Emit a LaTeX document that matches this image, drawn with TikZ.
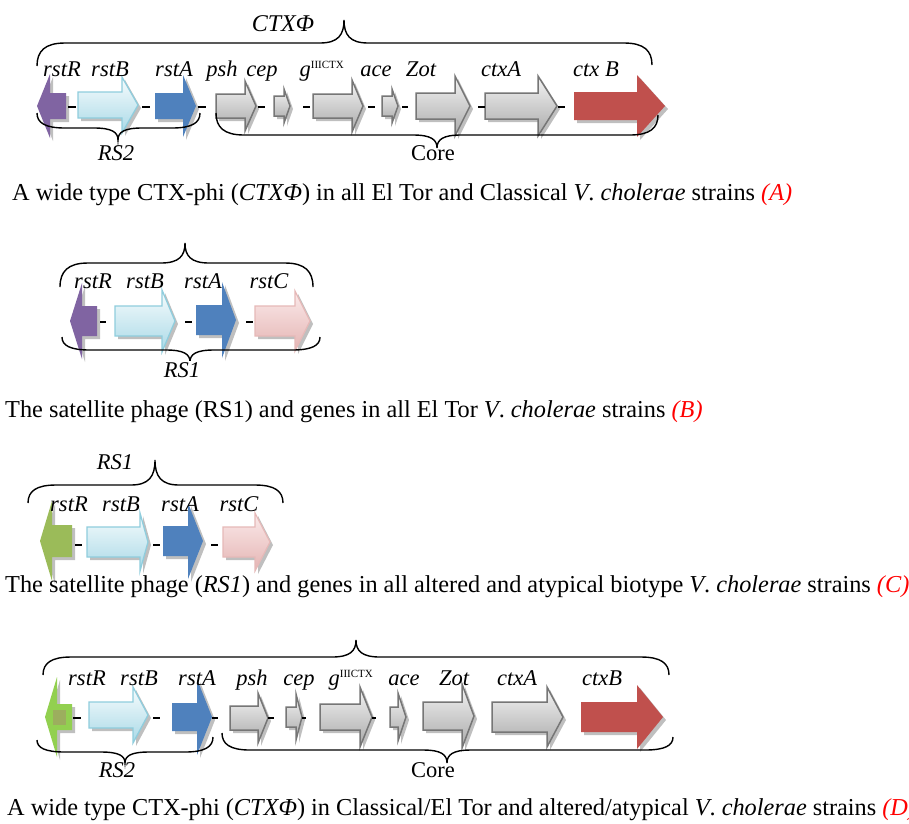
\documentclass[tikz,border=0pt]{standalone}
\usepackage{fontspec}
\setmainfont{Liberation Serif}
\definecolor{cpurple}{HTML}{8064A2}
\definecolor{cblue}{HTML}{4F81BD}
\definecolor{cred}{HTML}{C0504D}
\definecolor{cgreen}{HTML}{9BBB59}
\definecolor{clime}{HTML}{92D050}
\definecolor{colive}{HTML}{9CAE5E}
\definecolor{cyanT}{HTML}{F7FCFD}
\definecolor{cyanB}{HTML}{A9D9E7}
\definecolor{cyanL}{HTML}{8FCDDD}
\definecolor{grayT}{HTML}{F4F4F4}
\definecolor{grayB}{HTML}{A9A9A9}
\definecolor{grayL}{HTML}{767676}
\definecolor{pinkT}{HTML}{FBEAEA}
\definecolor{pinkB}{HTML}{E4B4B3}
\definecolor{pinkL}{HTML}{E6B9B8}
\tikzset{
  purplegene/.style={fill=cpurple},
  bluegene/.style={fill=cblue},
  redgene/.style={fill=cred},
  greengene/.style={fill=cgreen},
  limegene/.style={fill=clime},
  cyangene/.style={top color=cyanT,bottom color=cyanB,draw=cyanL,line width=1.3},
  graygene/.style={top color=grayT,bottom color=grayB,draw=grayL,line width=1.5},
  pinkgene/.style={top color=pinkT,bottom color=pinkB,draw=pinkL,line width=1.2},
  bracestyle/.style={draw=black,line width=1.4},
  linker/.style={draw=black,line width=2},
  lab/.style={font=\fontsize{22.5}{26}\selectfont\itshape,anchor=base,inner sep=0pt},
  uplab/.style={font=\fontsize{22.5}{26}\selectfont,anchor=base,inner sep=0pt},
  caption/.style={font=\fontsize{24.3}{28}\selectfont,anchor=base west,inner sep=0pt},
}
% #1 style, #2 back x, #3 head base x, #4 tip x, #5 centre y, #6 body half height, #7 head half height
\newcommand\gn[7][]{%
  \fill[black,opacity=0.25,shift={(3,3)}] (#2,{#5-#6}) -- (#3,{#5-#6}) -- (#3,{#5-#7}) -- (#4,#5) -- (#3,{#5+#7}) -- (#3,{#5+#6}) -- (#2,{#5+#6}) -- cycle;
  \path[#1] (#2,{#5-#6}) -- (#3,{#5-#6}) -- (#3,{#5-#7}) -- (#4,#5) -- (#3,{#5+#7}) -- (#3,{#5+#6}) -- (#2,{#5+#6}) -- cycle;}
% brace: xl, xm, xr, yl, yr, yh, yp
\newcommand\gbrace[7]{%
  \draw[bracestyle] (#1,#4) .. controls (#1,{#6+0.35*(#4-#6)}) and ({#1+8},#6) .. ({#1+28},#6)
   -- ({#2-24},#6) .. controls ({#2-6},#6) and (#2,{#6+0.35*(#7-#6)}) .. (#2,#7)
   .. controls (#2,{#6+0.35*(#7-#6)}) and ({#2+6},#6) .. ({#2+24},#6)
   -- ({#3-28},#6) .. controls ({#3-8},#6) and (#3,{#6+0.35*(#5-#6)}) .. (#3,#5);}
\newcommand\lnk[3]{\draw[linker] (#1,#3) -- (#2,#3);}
\begin{document}
\begin{tikzpicture}[x=1pt,y=-1pt]
\useasboundingbox (0,0) rectangle (909,823);
\fill[white] (0,0) rectangle (909,823);

%% ---------------- A ----------------
\gn[purplegene]{66}{50}{37}{106}{13}{32}
\gn[cyangene]{78}{122}{138}{105}{13}{28}
\gn[bluegene]{155}{183}{196}{106}{13}{31}
\gn[graygene]{216}{245}{256}{106}{12}{25}
\gn[graygene]{274}{284}{290}{106}{10}{17}
\gn[graygene]{313}{352}{363}{106}{12}{26}
\gn[graygene]{382}{392}{398}{106}{10}{17}
\gn[graygene]{416}{455}{470}{106}{13}{30}
\gn[graygene]{485}{538}{557}{106}{13}{30}
\gn[redgene]{574}{637}{665}{106}{14}{31}
\lnk{68}{76}{107}\lnk{142}{150}{107}\lnk{198}{206}{107}\lnk{258}{265}{107}
\lnk{303}{310}{107}\lnk{368}{375}{107}\lnk{402}{408}{107}\lnk{478}{485}{107}
\lnk{558}{565}{107}
\gbrace{37}{344}{652}{66}{65}{43}{20}
\gbrace{37}{118}{200}{113}{113}{128}{140}
\gbrace{216}{437}{658}{113}{115}{135}{148}
\node[lab,font=\fontsize{24}{28}\selectfont\itshape] (a-ctx) at (283,31) {CTXΦ};
\node[lab] (a-rstR) at (62,76) {rstR};
\node[lab] (a-rstB) at (110,76) {rstB};
\node[lab] (a-rstA) at (174,76) {rstA};
\node[lab] (a-psh) at (222,76) {psh};
\node[lab] (a-cep) at (262,76) {cep};
\node[lab] (a-g) at (322,76) {g\textsuperscript{\upshape\fontsize{11}{12}\selectfont IIICTX}};
\node[lab] (a-ace) at (376,76) {ace};
\node[lab] (a-zot) at (421,76) {Zot};
\node[lab] (a-ctxA) at (501,76) {ctxA};
\node[lab] (a-ctxB) at (596,76) {ctx B};
\node[lab] (a-rs2) at (116,160) {RS2};
\node[uplab] (a-core) at (433,160) {Core};
\node[caption] (a-cap) at (12,200) {A wide type CTX-phi (\textit{CTXΦ}) in all El Tor and Classical \textit{V}. \textit{cholerae} strains \textcolor{red}{\textit{(A)}}};

%% ---------------- B ----------------
\gn[purplegene]{97}{82}{70}{321}{15}{38}
\gn[cyangene]{115}{162}{175}{321}{15}{31}
\gn[bluegene]{196}{222}{236}{320}{15}{38}
\gn[pinkgene]{255}{295}{310}{321}{15}{30}
\lnk{100}{106}{322}\lnk{185}{192}{322}\lnk{246}{253}{322}
\gbrace{60}{185}{313}{287}{287}{263}{243}
\gbrace{62}{190}{320}{337}{337}{350}{362}
\node[lab] (b-rstR) at (93,288) {rstR};
\node[lab] (b-rstB) at (145,288) {rstB};
\node[lab] (b-rstA) at (203,288) {rstA};
\node[lab] (b-rstC) at (269,288) {rstC};
\node[lab,fill=white,inner xsep=2pt,inner ysep=1pt] (b-rs1) at (182,377) {RS1};
\node[caption] (b-cap) at (5,417) {The satellite phage (RS1) and genes in all El Tor \textit{V}. \textit{cholerae} strains \textcolor{red}{\textit{(B)}}};

%% ---------------- C ----------------
\gn[greengene]{72}{52}{40}{541}{16}{40}
\gn[cyangene]{87}{140}{148}{542}{15}{29}
\gn[bluegene]{163}{188}{203}{541}{15}{38}
\gn[pinkgene]{223}{255}{270}{542}{15}{29}
\lnk{75}{82}{545}\lnk{153}{160}{545}\lnk{211}{218}{545}
\gbrace{28}{155}{283}{503}{503}{485}{460}
\node[lab] (c-rs1) at (115,469) {RS1};
\node[lab] (c-rstR) at (69,511) {rstR};
\node[lab] (c-rstB) at (121,511) {rstB};
\node[lab] (c-rstA) at (180,511) {rstA};
\node[lab] (c-rstC) at (239,511) {rstC};
\node[caption] (c-cap) at (5,592) {The satellite phage (\textit{RS1}) and genes in all altered and atypical biotype \textit{V}. \textit{cholerae} strains \textcolor{red}{\textit{(C)}}};

%% ---------------- D ----------------
\gn[limegene]{72}{57}{45}{717}{13}{40}
\fill[colive] (53,710) rectangle (66,725);
\gn[cyangene]{89}{133}{148}{715}{13}{28}
\gn[bluegene]{172}{197}{212}{717}{14}{38}
\gn[graygene]{230}{258}{268}{718}{12}{25}
\gn[graygene]{286}{296}{302}{717}{10}{23}
\gn[graygene]{320}{360}{372}{717}{13}{30}
\gn[graygene]{390}{398}{406}{717}{10}{24}
\gn[graygene]{423}{462}{474}{716}{14}{32}
\gn[graygene]{492}{547}{563}{717}{15}{30}
\gn[redgene]{581}{637}{663}{717}{15}{32}
\lnk{73}{81}{718}\lnk{153}{160}{718}\lnk{212}{218}{718}\lnk{268}{274}{718}
\lnk{302}{306}{718}\lnk{372}{376}{718}
\gbrace{43}{356}{669}{675}{675}{657}{640}
\gbrace{37}{125}{213}{740}{737}{752}{763}
\gbrace{222}{447}{673}{733}{737}{750}{763}
\node[lab] (d-rstR) at (87,685) {rstR};
\node[lab] (d-rstB) at (139,685) {rstB};
\node[lab] (d-rstA) at (197,685) {rstA};
\node[lab] (d-psh) at (252,685) {psh};
\node[lab] (d-cep) at (299,685) {cep};
\node[lab] (d-g) at (351,685) {g\textsuperscript{\upshape\fontsize{11}{12}\selectfont IIICTX}};
\node[lab] (d-ace) at (404,685) {ace};
\node[lab] (d-zot) at (454,685) {Zot};
\node[lab] (d-ctxA) at (517,685) {ctxA};
\node[lab] (d-ctxB) at (602,685) {ctxB};
\node[lab] (d-rs2) at (117,777) {RS2};
\node[uplab] (d-core) at (433,777) {Core};
\node[caption] (d-cap) at (7,815) {A wide type CTX-phi (\textit{CTXΦ}) in Classical/El Tor and altered/atypical \textit{V}. \textit{cholerae} strains \textcolor{red}{\textit{(D)}}};
\end{tikzpicture}
\end{document}
